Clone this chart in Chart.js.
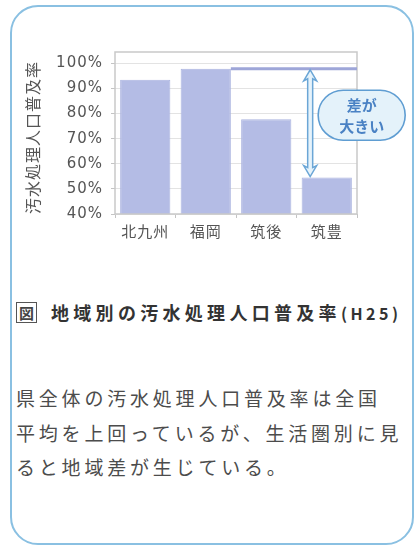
<!DOCTYPE html>
<html lang="ja">
<head>
<meta charset="utf-8">
<script src="https://cdn.jsdelivr.net/npm/chart.js@4/dist/chart.umd.min.js"></script>
<style>
  html, body { margin: 0; padding: 0; background: #fff; }
  body { width: 417px; height: 548px; position: relative; overflow: hidden; }
  .panel {
    position: absolute; left: 10px; top: 5px; width: 400px; height: 536px;
    border: 2.5px solid #8ac0e2; border-radius: 28px; background: #fff;
  }
  #chart { position: absolute; left: 0; top: 0; }
  .caption {
    position: absolute; left: 16px; top: 300px; white-space: nowrap;
    font: bold 18px/24px "Noto Sans CJK JP", sans-serif; letter-spacing: 4.3px; color: #333;
  }
  .caption .zu {
    display: inline-block; width: 19px; height: 19px; line-height: 19px; margin-right: 14px;
    border: 1.5px solid #555; font-size: 15px; letter-spacing: 0; text-align: center;
    vertical-align: 1px; color: #444;
  }
  .caption .yr { font-size: 16px; letter-spacing: 3.5px; }
  .note {
    position: absolute; left: 16px; top: 381px; white-space: nowrap;
    font: 19px/34.5px "Noto Sans CJK JP", sans-serif; letter-spacing: 3.8px; color: #4c4c4c;
  }
</style>
</head>
<body>
<div class="panel"></div>
<canvas id="chart" width="417" height="260"></canvas>
<div class="caption"><span class="zu">図</span>地域別の汚水処理人口普及率<span class="yr">(H25)</span></div>
<div class="note">県全体の汚水処理人口普及率は全国<br>平均を上回っているが、生活圏別に見<br>ると地域差が生じている。</div>
<script>
// 生活圏別の汚水処理人口普及率 (H25)
const regions = ['北九州', '福岡', '筑後', '筑豊'];
const rates = [93.5, 97.8, 77.7, 54.5];
const yTicks = [40, 50, 60, 70, 80, 90, 100];
const axisTitle = '汚水処理人口普及率';
const calloutLines = ['差が', '大きい'];

const BAR = '#b4bce5';
const LINE = '#9ea6d8';
const ARROW_FILL = '#e6f3fb';
const ARROW_EDGE = '#6ba6d6';

Chart.defaults.font.family = "'DejaVu Sans', 'Noto Sans CJK JP', sans-serif";

// slight canvas letter spacing for the axis text
const spacing = {
  id: 'spacing',
  beforeDraw(chart) { chart.ctx.letterSpacing = '1px'; },
  afterDraw(chart) { chart.ctx.letterSpacing = '0px'; },
};

// plot frame, top-level reference line, double arrow and the callout
const gapMarks = {
  id: 'gapMarks',
  afterDatasetsDraw(chart) {
    const { ctx, chartArea: area, scales: { y } } = chart;
    const bars = chart.getDatasetMeta(0).data;
    const hi = rates.indexOf(Math.max(...rates));
    const lo = rates.indexOf(Math.min(...rates));
    const yHi = y.getPixelForValue(rates[hi]);
    const yLo = y.getPixelForValue(rates[lo]);

    ctx.save();
    ctx.letterSpacing = '0px';

    // frame
    ctx.strokeStyle = '#c9c9c9';
    ctx.lineWidth = 1.5;
    ctx.strokeRect(area.left, area.top, area.right - area.left, area.bottom - area.top);

    // line at the highest region's level
    const hb = bars[hi];
    ctx.strokeStyle = LINE;
    ctx.lineWidth = 3;
    ctx.beginPath();
    ctx.moveTo(hb.x + hb.width / 2, yHi);
    ctx.lineTo(area.right, yHi);
    ctx.stroke();

    // double-headed arrow down to the lowest region
    const lb = bars[lo];
    const ax = lb.x - lb.width * 0.33;
    const sw = 2.5, hw = 6.5, hl = 11;
    const t = yHi + 1, b = yLo - 1;
    ctx.beginPath();
    ctx.moveTo(ax, t);
    ctx.lineTo(ax + hw, t + hl);
    ctx.lineTo(ax + sw, t + hl - 2);
    ctx.lineTo(ax + sw, b - hl + 2);
    ctx.lineTo(ax + hw, b - hl);
    ctx.lineTo(ax, b);
    ctx.lineTo(ax - hw, b - hl);
    ctx.lineTo(ax - sw, b - hl + 2);
    ctx.lineTo(ax - sw, t + hl - 2);
    ctx.lineTo(ax - hw, t + hl);
    ctx.closePath();
    ctx.fillStyle = ARROW_FILL;
    ctx.fill();
    ctx.strokeStyle = ARROW_EDGE;
    ctx.lineWidth = 1.5;
    ctx.stroke();

    // rounded callout beside the arrow
    const bw = 87, bh = 50;
    const bx = ax + 8;
    const cy = (yHi + yLo) / 2 - 8;
    ctx.beginPath();
    ctx.roundRect(bx, cy - bh / 2, bw, bh, bh / 2);
    ctx.fillStyle = '#e4f2fa';
    ctx.fill();
    ctx.strokeStyle = '#5f9dd2';
    ctx.lineWidth = 1.6;
    ctx.stroke();
    ctx.fillStyle = '#4a82c4';
    ctx.font = "bold 15px 'Noto Sans CJK JP', sans-serif";
    ctx.textAlign = 'center';
    ctx.textBaseline = 'middle';
    ctx.fillText(calloutLines[0], bx + bw / 2, cy - 10);
    ctx.fillText(calloutLines[1], bx + bw / 2, cy + 11);
    ctx.restore();
  },
};

new Chart(document.getElementById('chart'), {
  type: 'bar',
  data: {
    labels: regions,
    datasets: [{
      data: rates,
      backgroundColor: BAR,
      borderColor: '#abb4e0',
      borderWidth: 1,
      barPercentage: 0.83,
      categoryPercentage: 1,
    }],
  },
  options: {
    responsive: false,
    animation: false,
    layout: { padding: { top: 52, right: 60, bottom: 12, left: 0 } },
    plugins: { legend: { display: false }, tooltip: { enabled: false } },
    scales: {
      x: {
        grid: { drawOnChartArea: false, tickLength: 4, tickColor: '#c4c4c4' },
        border: { display: false },
        ticks: { color: '#555', font: { size: 15 }, padding: 6 },
      },
      y: {
        min: 40,
        max: 104.5,
        afterBuildTicks(scale) { scale.ticks = yTicks.map((v) => ({ value: v })); },
        afterFit(scale) { scale.width = 115; },
        grid: { color: '#e3e3e3', tickLength: 4, tickColor: '#c4c4c4' },
        border: { display: false },
        ticks: { color: '#555', font: { size: 15 }, padding: 8, callback: (v) => v + '%' },
        title: {
          display: true,
          text: axisTitle,
          align: 'start',
          color: '#555',
          font: { size: 16 },
          padding: { top: 25, bottom: 0 },
        },
      },
    },
  },
  plugins: [spacing, gapMarks],
});
</script>
</body>
</html>
